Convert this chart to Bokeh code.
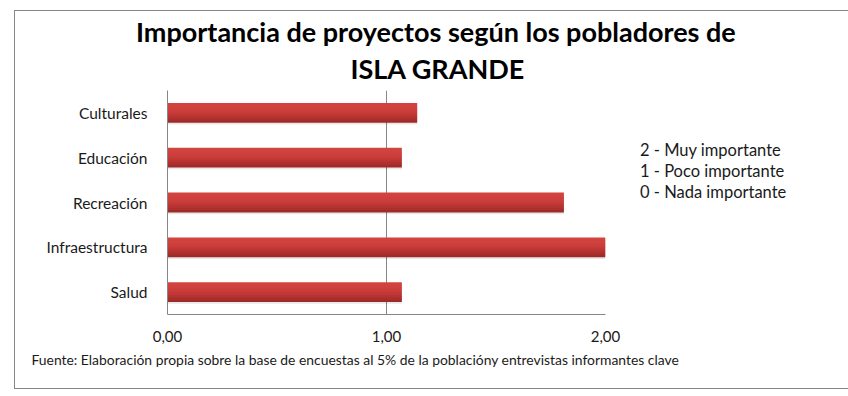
from bokeh.plotting import figure
from bokeh.models import (FactorRange, Range1d, FixedTicker, Title, Legend, LegendItem, ColumnDataSource)
from bokeh.transform import dodge
from bokeh.embed import file_html
from bokeh.resources import INLINE

# ---- data ----
categories = ["Culturales", "Educación", "Recreación", "Infraestructura", "Salud"]
values = [1.14, 1.07, 1.81, 2.00, 1.07]
tick_values = [0, 1, 2]
tick_labels = ["0,00", "1,00", "2,00"]
title_lines = ["Importancia de proyectos según los pobladores de", "ISLA GRANDE"]
legend_lines = ["2 - Muy importante", "1 - Poco importante", "0 - Nada importante"]
footer = "Fuente: Elaboración propia sobre la base de encuestas al 5%  de la poblacióny entrevistas informantes clave"

FONT = "Lato"
GRAY = "#868686"

src = ColumnDataSource(dict(cat=categories, val=values))

p = figure(
    width=812, height=378,
    y_range=FactorRange(factors=categories[::-1], range_padding=0),
    x_range=Range1d(0, 2),
    output_backend="svg", toolbar_location=None,
    frame_width=438, frame_height=224,
    min_border_left=152, min_border_top=70, min_border_right=217, min_border_bottom=74,
)
p.margin = (10, 0, 0, 14)
p.styles = {"border": "1px solid #868686"}
p.outline_line_color = None
p.background_fill_color = "white"
p.border_fill_color = "white"

# shadow
p.hbar(y=dodge("cat", -0.06, range=p.y_range), left=0, right="val", height=0.40,
       source=src, fill_color="#000000", fill_alpha=0.09, line_color=None)
# gradient strips (top light -> bottom dark)
strip_colors = ["#d2433f", "#d0423e", "#cd3f3c", "#c83c39", "#c03835", "#b63331", "#aa2f2d", "#9f2b29"]
n = len(strip_colors)
bh = 0.42
sh = bh / n
for i in reversed(range(n)):
    off = bh / 2 - sh * (i + 0.5)
    p.hbar(y=dodge("cat", off, range=p.y_range), left=0, right="val", height=sh * 1.4,
           source=src, fill_color=strip_colors[i], line_color=None)

# axes
p.xaxis.ticker = FixedTicker(ticks=tick_values)
p.xaxis.major_label_overrides = {t: l for t, l in zip(tick_values, tick_labels)}
for ax in (p.xaxis, p.yaxis):
    ax.axis_line_color = GRAY
    ax.axis_line_width = 1
    ax.major_tick_line_color = None
    ax.minor_tick_line_color = None
    ax.major_label_text_font = FONT
    ax.major_label_text_font_size = "15px"
    ax.major_label_text_color = "#1a1a1a"
p.yaxis.major_label_text_font_size = "15.5px"
p.xaxis.major_label_standoff = 10
p.yaxis.major_label_standoff = 14
p.xgrid.ticker = FixedTicker(ticks=tick_values)
p.xgrid.grid_line_color = GRAY
p.ygrid.grid_line_color = None

# spacer between the frame and the title block
p.add_layout(Title(text=" ", text_font_size="1px", standoff=2), "above")
# title lines (first added sits closest to the frame)
p.add_layout(Title(text=title_lines[1], align="left", offset=183, text_font=FONT,
                   text_font_style="bold", text_font_size="27px", text_color="#000000",
                   standoff=2), "above")
p.add_layout(Title(text=title_lines[0], align="left", offset=-31.5, text_font=FONT,
                   text_font_style="bold", text_font_size="27px", text_color="#000000",
                   standoff=2), "above")

# legend text in right panel
items = [LegendItem(label=t, renderers=[]) for t in legend_lines]
leg = Legend(items=items, location=(35, 112), glyph_width=0, glyph_height=1, label_standoff=0,
             label_text_font=FONT, label_text_font_size="16.5px", label_text_color="#1a1a1a",
             label_height=21, spacing=0, padding=0, margin=0, border_line_color=None,
             background_fill_alpha=0)
p.add_layout(leg, "right")

# footer
p.add_layout(Title(text=footer, align="left", offset=-136, text_font=FONT,
                   text_font_size="13.9px", text_color="#1a1a1a", text_font_style="normal",
                   standoff=9), "below")

open("out.html", "w").write(file_html(p, INLINE))
